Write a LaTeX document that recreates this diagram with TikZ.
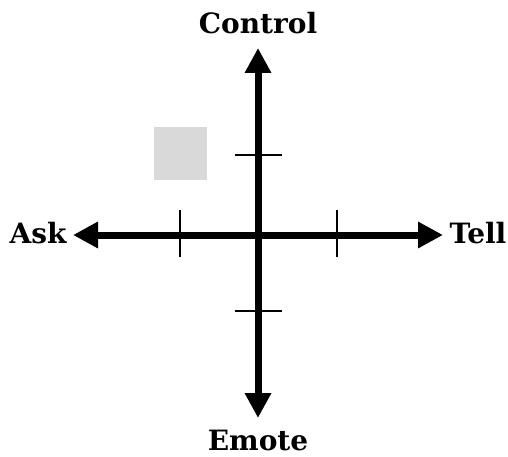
\documentclass[tikz,border=0pt]{standalone}
\usepackage{fontspec}
\setmainfont{DejaVu Serif}
\usetikzlibrary{arrows.meta}
\begin{document}
\begin{tikzpicture}[x=1pt,y=-1pt,
  axis/.style={line width=7pt,{Triangle[length=25pt,width=25pt]}-{Triangle[length=25pt,width=25pt]}},
  tick/.style={line width=1.5pt},
  lbl/.style={font=\fontsize{28}{32}\selectfont\bfseries,inner sep=0pt}]
\useasboundingbox (0,0) rectangle (508,457);
\fill[fill={rgb,255:red,217;green,217;blue,217}] (154,127) rectangle (207,180);
\coordinate (L) at (73,235);
\coordinate (R) at (443,235);
\coordinate (T) at (258,48);
\coordinate (B) at (258,418);
\draw[tick] (180,210) -- (180,257);
\draw[tick] (337,210) -- (337,257);
\draw[tick] (235,155) -- (282,155);
\draw[tick] (235,311) -- (282,311);
\draw[axis] (L) -- (R);
\draw[axis] (B) -- (T);
\node[lbl] (ask) at (38,233) {Ask};
\node[lbl] (tell) at (478,233) {Tell};
\node[lbl] (control) at (258,23) {Control};
\node[lbl] (emote) at (258,440) {Emote};
\end{tikzpicture}
\end{document}
